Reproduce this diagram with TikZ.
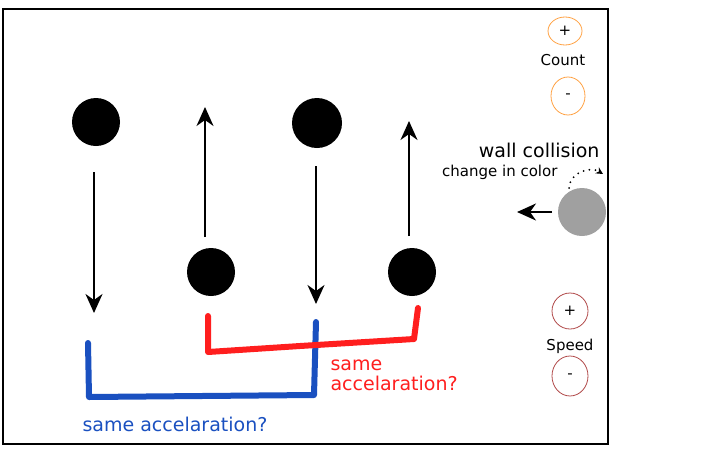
\documentclass[tikz,border=0pt]{standalone}
\usepackage{fontspec}
\setmainfont{DejaVu Sans}
\usetikzlibrary{arrows.meta,shapes.geometric}

\definecolor{btnorange}{HTML}{FFA040}
\definecolor{btnred}{HTML}{B04848}
\definecolor{markred}{HTML}{FF1E1E}
\definecolor{markblue}{HTML}{1A50C0}
\definecolor{wallgray}{HTML}{A0A0A0}

\begin{document}
\begin{tikzpicture}[x=1pt,y=-1pt,
	ball/.style={circle,fill=black,inner sep=0pt,minimum size=48pt},
	move/.style={line width=1.6pt,-{Stealth[length=19pt,width=17pt,inset=6pt]}},
	btn/.style={ellipse,draw,line width=0.8pt,inner sep=0pt,font=\fontsize{15}{18}\selectfont},
	small/.style={font=\fontsize{15}{18}\selectfont},
	big/.style={font=\fontsize{19}{23}\selectfont},
	handmark/.style={line width=6pt,line cap=round,line join=round}]
	
	\useasboundingbox (0,0) rectangle (723,448);
	\draw[line width=2.5pt] (3,9) rectangle (608,444);
	
	% balls and motion
	\node[ball] (b1) at (96,122) {};
	\node[ball] (b2) at (211,272) {};
	\node[ball,minimum size=50pt] (b3) at (317,123) {};
	\node[ball] (b4) at (412,272) {};
	
	\coordinate (a1s) at (94,172);  \coordinate (a1e) at (94,313);
	\coordinate (a2s) at (205,237); \coordinate (a2e) at (205,107);
	\coordinate (a3s) at (316,166); \coordinate (a3e) at (316,304);
	\coordinate (a4s) at (409,236); \coordinate (a4e) at (409,121);
	\draw[move] (a1s) -- (a1e);
	\draw[move] (a2s) -- (a2e);
	\draw[move] (a3s) -- (a3e);
	\draw[move] (a4s) -- (a4e);
	
	% wall collision
	\node[circle,fill=wallgray,inner sep=0pt,minimum size=48pt] (gb) at (582,212) {};
	\coordinate (gs) at (552,212);
	\coordinate (gl) at (517,212);
	\draw[move,line width=2pt] (gs) -- (gl);
	\node[big,anchor=east] (wc) at (603,150) {wall collision};
	\node[small,anchor=east] (cc) at (561,172) {change in color};
	\coordinate (dt1) at (569,188);
	\coordinate (dt2) at (603,174);
	\draw[line width=2pt,line cap=round,dash pattern=on 0pt off 6pt,-{Stealth[length=7pt,width=7pt]}] (dt1) .. controls (570,172) and (590,166) .. (dt2);
	
	% count buttons
	\node[btn,draw=btnorange,minimum width=34pt,minimum height=28pt] (cp) at (565,31) {+};
	\node[small] (ct) at (563,60) {Count};
	\node[btn,draw=btnorange,minimum width=34pt,minimum height=38pt] (cm) at (568,96) {-};
	
	% speed buttons
	\node[btn,draw=btnred,minimum width=36pt,minimum height=36pt] (sp) at (570,311) {+};
	\node[small] (st) at (570,346) {Speed};
	\node[btn,draw=btnred,minimum width=36pt,minimum height=40pt] (sm) at (570,376) {-};
	
	% same acceleration marks
	\coordinate (u1) at (88,343);  \coordinate (u2) at (89,397);
	\coordinate (u3) at (314,395); \coordinate (u4) at (316,322);
	\draw[handmark,markblue] (u1) -- (u2) -- (u3) -- (u4);
	\node[big,text=markblue,anchor=west] (ut) at (79,424) {same accelaration?};
	
	\coordinate (r1) at (208,316); \coordinate (r2) at (208,352);
	\coordinate (r3) at (300,346); \coordinate (r4) at (414,339);
	\coordinate (r5) at (418,308);
	\draw[handmark,markred] (r1) -- (r2) -- (r3) -- (r4) -- (r5);
	\node[big,text=markred,anchor=west,align=left] (rt) at (327,375) {same\\[-3pt]accelaration?};
	
\end{tikzpicture}
\end{document}
